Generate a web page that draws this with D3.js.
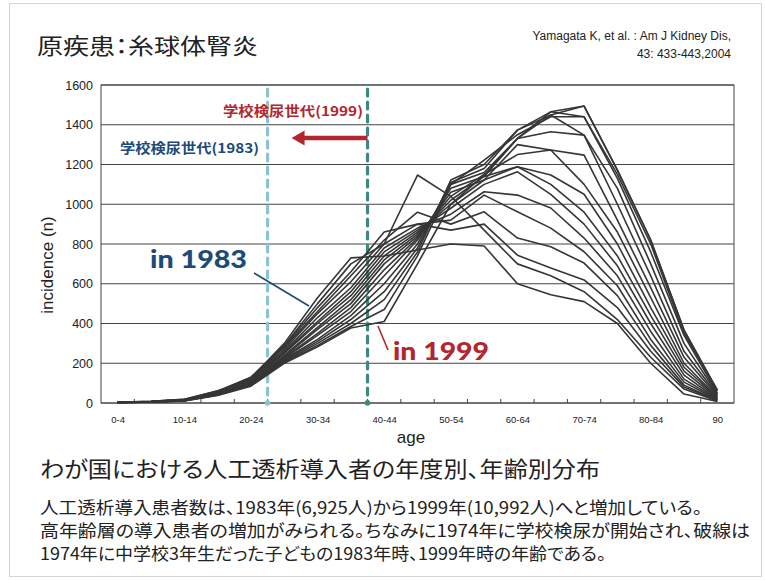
<!DOCTYPE html>
<html><head><meta charset="utf-8">
<script src="https://cdn.jsdelivr.net/npm/d3@7"></script>
<style>
html,body{margin:0;padding:0;background:#fff;}
svg{display:block;}
.jp{font-family:'Noto Sans CJK JP';font-feature-settings:"palt";}
</style></head>
<body>
<svg id="c" width="765" height="581"></svg>
<script>
const ages = ["0-4","5-9","10-14","15-19","20-24","25-29","30-34","35-39","40-44","45-49","50-54","55-59","60-64","65-69","70-74","75-79","80-84","85-89","90"];
const ageLabels = ["0-4","10-14","20-24","30-34","40-44","50-54","60-64","70-74","80-84","90"];
const yTicks = [0,200,400,600,800,1000,1200,1400,1600];
const years = [1983,1984,1985,1986,1987,1988,1989,1990,1991,1992,1993,1994,1995,1996,1997,1998,1999];
const y1983 = [4,6,15,55,125,300,530,730,740,770,800,790,600,545,510,400,200,45,8];
const y1984 = [3,7,16,58,130,290,500,700,800,1147,1040,870,700,640,560,420,230,70,10];
const y1985 = [5,6,14,52,120,285,480,660,860,900,870,900,744,679,619,480,260,80,12];
const y1986 = [4,8,18,60,128,280,460,640,820,960,900,962,830,786,704,540,290,90,14];
const y1987 = [3,6,15,56,118,270,450,610,800,900,920,1046,962,880,761,590,320,105,16];
const y1988 = [4,7,17,50,115,260,430,580,780,880,950,1063,1046,981,830,640,360,120,18];
const y1989 = [5,6,13,54,122,255,410,560,760,870,980,1100,1163,1050,900,690,400,140,20];
const y1990 = [3,8,19,62,110,250,400,540,740,860,1000,1122,1189,1100,960,740,440,160,25];
const y1991 = [4,6,16,48,105,240,380,520,720,850,1020,1140,1189,1147,1050,800,480,180,28];
const y1992 = [3,7,15,55,112,235,370,500,700,840,1040,1150,1250,1273,1100,860,530,200,30];
const y1993 = [4,6,14,50,100,230,350,480,670,830,1060,1122,1300,1273,1247,920,580,230,35];
const y1994 = [2,5,12,46,95,225,340,460,640,820,1080,1140,1331,1365,1348,1000,640,260,40];
const y1995 = [3,6,14,48,98,220,320,440,600,800,1100,1160,1331,1449,1348,1080,700,300,45];
const y1996 = [4,5,12,44,92,215,310,420,560,780,1110,1180,1373,1465,1440,1130,760,340,50];
const y1997 = [3,6,11,42,90,210,300,400,520,760,1122,1200,1373,1449,1494,1172,820,367,60];
const y1998 = [2,5,10,40,88,205,290,385,470,740,1100,1222,1350,1440,1440,1150,800,350,65];
const y1999 = [3,4,10,38,85,200,283,377,410,700,1000,1147,1331,1465,1494,1172,820,367,65];
const series = [y1983,y1984,y1985,y1986,y1987,y1988,y1989,y1990,y1991,y1992,y1993,y1994,y1995,y1996,y1997,y1998,y1999];
const cohortStart = ["25-29","40-44"]; // age group boundary of the 1974 cohort in 1983 and 1999

const svg = d3.select("#c");
const L=101, R=734, T=85, B=403;
const x = d3.scalePoint().domain(ages).range([L,R]).padding(0.5);
const step = x.step();
const y = d3.scaleLinear().domain([0,1600]).range([B,T]);

// outer frame
svg.append("rect").attr("x",9.5).attr("y",3.5).attr("width",752).attr("height",573)
  .attr("fill","none").attr("stroke","#aaa").attr("stroke-dasharray","1,1");

// title
svg.append("text").attr("class","jp").attr("x",37).attr("y",54)
  .attr("font-size",22).attr("fill","#222").attr("textLength",221).attr("lengthAdjust","spacingAndGlyphs")
  .text("原疾患：糸球体腎炎");
svg.append("text").attr("x",731).attr("y",40).attr("text-anchor","end")
  .attr("font-family","'Liberation Sans Narrow','Liberation Sans'").attr("font-size",12).attr("fill","#222")
  .text("Yamagata K, et al. : Am J Kidney Dis,");
svg.append("text").attr("x",731).attr("y",58).attr("text-anchor","end")
  .attr("font-family","'Liberation Sans Narrow','Liberation Sans'").attr("font-size",12).attr("fill","#222")
  .text("43: 433-443,2004");

// gridlines
svg.append("g").selectAll("line").data(yTicks).join("line")
  .attr("x1",L).attr("x2",R).attr("y1",d=>y(d)).attr("y2",d=>y(d))
  .attr("stroke","#444").attr("stroke-width",1);
// box
svg.append("rect").attr("x",L).attr("y",T).attr("width",R-L).attr("height",B-T)
  .attr("fill","none").attr("stroke","#444").attr("stroke-width",1);

// inner ticks on x axis at band boundaries
svg.append("g").selectAll("line").data(ages.slice(1)).join("line")
  .attr("x1",d=>x(d)-step/2).attr("x2",d=>x(d)-step/2).attr("y1",B).attr("y2",B-4)
  .attr("stroke","#444").attr("stroke-width",1);

// y axis labels
const yAxis = d3.axisLeft(y).tickValues(yTicks).tickFormat(d3.format("d")).tickSize(0).tickPadding(8);
const gy = svg.append("g").attr("transform",`translate(${L},0)`).call(yAxis);
gy.select(".domain").remove();
gy.selectAll("text").attr("font-family","'Liberation Sans',Arial").attr("font-size",12.5).attr("fill","#222");

// x axis labels
const xAxis = d3.axisBottom(x).tickValues(ageLabels).tickSize(0).tickPadding(13);
const gx = svg.append("g").attr("transform",`translate(0,${B})`).call(xAxis);
gx.select(".domain").remove();
gx.selectAll("text").attr("font-family","'Liberation Sans',Arial").attr("font-size",9.5).attr("fill","#222");

// axis titles
svg.append("text").attr("x",411).attr("y",443).attr("text-anchor","middle")
  .attr("font-family","'Liberation Sans',Arial").attr("font-size",17).attr("fill","#222").text("age");
svg.append("text").attr("transform","translate(53,265) rotate(-90)").attr("text-anchor","middle")
  .attr("font-family","'Liberation Sans',Arial").attr("font-size",17).attr("fill","#222").text("incidence (n)");

// dashed cohort lines
const dashColors = ["#8cc3d2","#3b8a82"];
cohortStart.forEach((c,i)=>{
  const xx = x(c)-step/2;
  svg.append("line").attr("x1",xx).attr("x2",xx).attr("y1",T+4).attr("y2",B)
    .attr("stroke",dashColors[i]).attr("stroke-width",3.2).attr("stroke-dasharray","7,6")
    .attr("stroke-linecap","round");
  svg.append("circle").attr("cx",xx).attr("cy",B).attr("r",2.8).attr("fill",dashColors[i]);
});

// lines
const line = d3.line().x((d,i)=>x(ages[i])).y(d=>y(d));
svg.append("g").selectAll("path").data(series).join("path")
  .attr("d",line).attr("fill","none").attr("stroke","#363636").attr("stroke-width",1.6)
  .attr("stroke-linejoin","round");

// annotations
const red="#b3262e", navy="#1d4a78";
svg.append("text").attr("class","jp").attr("x",363).attr("y",116).attr("text-anchor","end")
  .attr("font-weight",700).attr("font-size",13.5).attr("fill",red)
  .attr("textLength",140).attr("lengthAdjust","spacingAndGlyphs").text("学校検尿世代(1999)");
svg.append("text").attr("class","jp").attr("x",120).attr("y",153)
  .attr("font-weight",700).attr("font-size",13.5).attr("fill",navy)
  .attr("textLength",139).attr("lengthAdjust","spacingAndGlyphs").text("学校検尿世代(1983)");
// arrow
const xa1 = x(cohortStart[1])-step/2, xa0 = x(cohortStart[0])-step/2;
svg.append("line").attr("x1",xa1).attr("x2",xa0+34).attr("y1",138).attr("y2",138)
  .attr("stroke",red).attr("stroke-width",4.5);
svg.append("path").attr("d",`M${xa0+24},138 L${xa0+37},130.5 L${xa0+37},145.5 Z`).attr("fill",red);

svg.append("text").attr("x",150).attr("y",268)
  .attr("font-family","'Lato','Noto Sans'").attr("font-weight",900).attr("font-size",24).attr("fill",navy)
  .attr("textLength",97).attr("lengthAdjust","spacingAndGlyphs").text("in 1983");
svg.append("line").attr("x1",254).attr("y1",273).attr("x2",309).attr("y2",306)
  .attr("stroke",navy).attr("stroke-width",1.6);
svg.append("text").attr("x",393).attr("y",360)
  .attr("font-family","'Lato','Noto Sans'").attr("font-weight",900).attr("font-size",24).attr("fill",red)
  .attr("textLength",96).attr("lengthAdjust","spacingAndGlyphs").text("in 1999");
svg.append("line").attr("x1",378).attr("y1",326).attr("x2",388).attr("y2",350)
  .attr("stroke",red).attr("stroke-width",1.6);

// bottom texts
svg.append("text").attr("class","jp").attr("x",40).attr("y",477)
  .attr("font-size",22).attr("fill","#222").attr("textLength",560).attr("lengthAdjust","spacingAndGlyphs")
  .text("わが国における人工透析導入者の年度別、年齢別分布");
const body = [
  ["人工透析導入患者数は、1983年(6,925人)から1999年(10,992人)へと増加している。",514,662],
  ["高年齢層の導入患者の増加がみられる。ちなみに1974年に学校検尿が開始され、破線は",537,710],
  ["1974年に中学校3年生だった子どもの1983年時、1999年時の年齢である。",560,566]
];
body.forEach(b=>{
  svg.append("text").attr("class","jp").attr("x",40).attr("y",b[1])
    .attr("font-size",17).attr("fill","#222").attr("textLength",b[2]).attr("lengthAdjust","spacingAndGlyphs")
    .text(b[0]);
});
</script>
</body></html>
